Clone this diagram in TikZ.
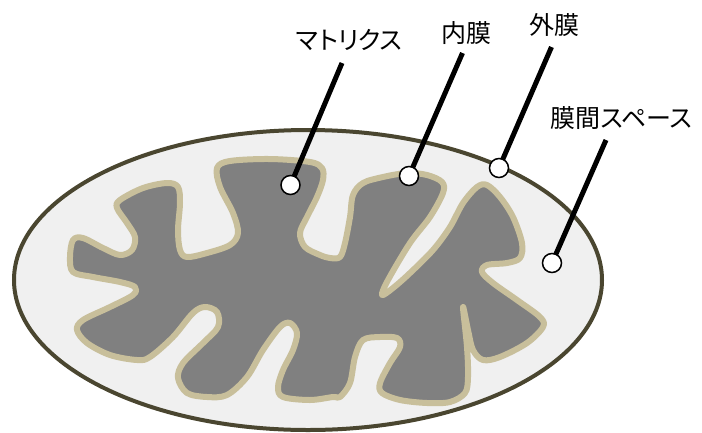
\documentclass[tikz,border=0pt]{standalone}
\usepackage{fontspec}
\newfontfamily\jpfont[CharacterWidth=AlternateProportional]{Noto Sans CJK JP}
\usetikzlibrary{positioning}
\definecolor{outermem}{HTML}{4A4630}
\definecolor{innermem}{HTML}{C8BF9B}
\definecolor{space}{HTML}{F0F0F0}
\definecolor{matrix}{HTML}{808080}
\pgfdeclarelayer{fg}
\pgfsetlayers{main,fg}
\tikzset{
  tag/.style={font=\jpfont\fontsize{25}{25}\selectfont, inner sep=0pt},
  pin/.style={circle, draw=black, line width=1.5pt, fill=white, minimum size=19pt, inner sep=0pt},
  lead/.style={line width=5pt},
}

\begin{document}
\begin{tikzpicture}[x=1pt, y=-1pt]
	\useasboundingbox (0,0) rectangle (702,432);
	% outer membrane
	\draw[outermem, fill=space, line width=4pt] (308,280) ellipse [x radius=294, y radius=150];
	% inner membrane with cristae
	\draw[innermem, fill=matrix, line width=6pt, line join=round]
		plot[smooth cycle, tension=0.55] coordinates {
		(270,159) (230,161) (217,168) (220,187) (233,213) (238,233) (230,245) (207,253)
		(187,257) (180,250) (178,230) (180,203) (178,187) (167,183) (143,188) (120,200)
		(117,208) (127,223) (135,237) (132,250) (120,255) (103,248) (83,238) (73,240)
		(70,257) (73,272) (93,277) (120,282) (135,287) (133,295) (110,307) (83,320)
		(77,330) (87,343) (110,355) (137,360) (150,357) (173,337) (193,313) (205,307)
		(217,312) (218,327) (203,343) (183,363) (178,378) (187,393) (207,397) (227,395)
		(247,377) (263,350) (280,327) (290,323) (297,333) (293,350) (283,370) (278,387)
		(283,397) (310,400) (333,397) (340,397) (350,383) (355,357) (363,340) (380,337)
		(397,338) (400,347) (390,363) (380,383) (382,393) (400,400) (427,403) (450,402)
		(465,393) (468,377) (467,347) (463,307) (468,330) (473,350) (483,360) (500,357)
		(527,343) (543,327) (540,317) (517,300) (493,283) (482,272) (487,265) (507,263)
		(520,258) (522,243) (513,217) (500,197) (487,185) (477,187) (463,203) (450,227)
		(433,250) (410,273) (393,288) (382,295) (388,280) (410,243) (430,217) (443,193)
		(442,182) (427,175) (407,173) (383,177) (363,183) (353,195) (350,217) (345,243)
		(340,257) (330,258) (320,255) (305,247) (300,233) (307,217) (317,197) (323,180)
		(322,168) (310,162)
	};
	% labels
	\node[tag] (matrixtag) at (349.5,40) {マトリクス};
	\node[tag] (innertag) at (466,33) {内膜};
	\node[tag] (outertag) at (554,25) {外膜};
	\node[tag] (spacetag) at (621.5,118) {膜間スペース};
	% leader lines, pins on top
	\coordinate (matrixend) at (342,63);
	\coordinate (innerend) at (462.5,53);
	\coordinate (outerend) at (551.5,47);
	\coordinate (spaceend) at (606,140);
	\begin{pgfonlayer}{fg}
	\node[pin] (matrixpin) at (290.5,185) {};
	\node[pin] (innerpin) at (409,176) {};
	\node[pin] (outerpin) at (499,168) {};
	\node[pin] (spacepin) at (552,263) {};
	\end{pgfonlayer}
	\draw[lead] (matrixend) -- (matrixpin.center);
	\draw[lead] (innerend) -- (innerpin.center);
	\draw[lead] (outerend) -- (outerpin.center);
	\draw[lead] (spaceend) -- (spacepin.center);
\end{tikzpicture}
\end{document}
